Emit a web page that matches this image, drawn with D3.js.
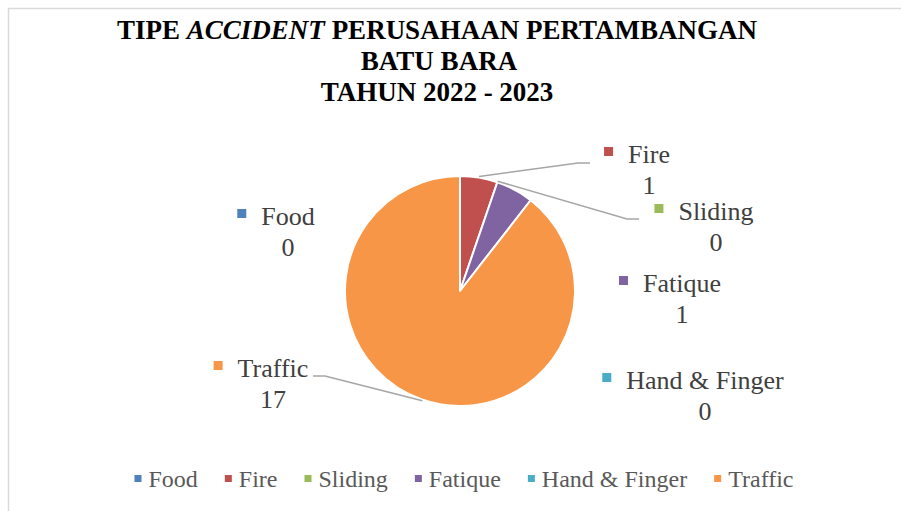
<!DOCTYPE html>
<html>
<head>
<meta charset="utf-8">
<script src="https://cdn.jsdelivr.net/npm/d3@7"></script>
<style>
  html, body { margin: 0; padding: 0; background: #fff; }
  svg { display: block; }
</style>
</head>
<body>
<svg id="chart" width="901" height="511"></svg>
<script>
// ---- data ----
const categories = ["Food", "Fire", "Sliding", "Fatique", "Hand & Finger", "Traffic"];
const values = [0, 1, 0, 1, 0, 17];
const colors = ["#4f81bd", "#c0504d", "#9bbb59", "#8064a2", "#4bacc6", "#f79646"];
const titleLines = ["TIPE ", "ACCIDENT", " PERUSAHAAN PERTAMBANGAN", "BATU BARA", "TAHUN 2022 - 2023"];

// ---- layout (not data) ----
const W = 901, H = 511;
const cx = 460, cy = 291, R = 115;
// label anchor: name centre x, name baseline y; leader: bend point & end point (null = none)
const labelLayout = {
  "Food":          { x: 288, y: 225, leader: null },
  "Fire":          { x: 649, y: 163, leader: [[578, 163], [590, 163]] },
  "Sliding":       { x: 716, y: 220, leader: [[627, 219], [639, 219]] },
  "Fatique":       { x: 682, y: 292, leader: null },
  "Hand & Finger": { x: 705, y: 389, leader: null },
  "Traffic":       { x: 273, y: 377, leader: [[325, 376], [313, 376]] }
};

const svg = d3.select("#chart");
svg.append("rect").attr("x", 0).attr("y", 0).attr("width", W).attr("height", H).attr("fill", "#fff");
// chart-area border (only top/left visible in the crop)
svg.append("rect").attr("x", 8.5).attr("y", 8.5).attr("width", 1000).attr("height", 1000)
  .attr("fill", "none").attr("stroke", "#d9d9d9").attr("stroke-width", 1.5);

// ---- title ----
const title = svg.append("g").attr("font-family", "'Liberation Serif', 'Times New Roman', serif")
  .attr("font-weight", "bold").attr("font-size", 27).attr("fill", "#000").attr("text-anchor", "middle");
const t1 = title.append("text").attr("x", 437).attr("y", 39);
t1.append("tspan").text(titleLines[0]);
t1.append("tspan").attr("font-style", "italic").text(titleLines[1]);
t1.append("tspan").text(titleLines[2]);
title.append("text").attr("x", 439).attr("y", 70).text(titleLines[3]);
title.append("text").attr("x", 437).attr("y", 101).text(titleLines[4]);

// ---- pie ----
const data = categories.map((c, i) => ({ name: c, value: values[i], color: colors[i] }));
const pie = d3.pie().value(d => d.value).sort(null).startAngle(0).endAngle(2 * Math.PI);
const arcs = pie(data);
const arc = d3.arc().innerRadius(0).outerRadius(R);
const g = svg.append("g").attr("transform", `translate(${cx},${cy})`);
g.selectAll("path").data(arcs.filter(a => a.value > 0)).join("path")
  .attr("d", arc).attr("fill", d => d.data.color)
  .attr("stroke", "#fff").attr("stroke-width", 2).attr("stroke-linejoin", "round");

// ---- leader lines ----
const lineGen = d3.line();
arcs.forEach(a => {
  const L = labelLayout[a.data.name];
  if (!L.leader) return;
  const mid = (a.startAngle + a.endAngle) / 2;
  const start = [cx + (R + 1) * Math.sin(mid), cy - (R + 1) * Math.cos(mid)];
  svg.append("path").attr("d", lineGen([start, ...L.leader]))
    .attr("fill", "none").attr("stroke", "#a6a6a6").attr("stroke-width", 1.5);
});

// ---- data labels ----
const labelFont = "'Liberation Serif', 'Times New Roman', serif";
arcs.forEach(a => {
  const L = labelLayout[a.data.name];
  const name = svg.append("text").attr("x", L.x).attr("y", L.y)
    .attr("text-anchor", "middle").attr("font-family", labelFont).attr("font-size", 26)
    .attr("fill", "#404040").text(a.data.name);
  const w = name.node().getComputedTextLength();
  svg.append("rect").attr("x", L.x - w / 2 - 24).attr("y", L.y - 16).attr("width", 9).attr("height", 9)
    .attr("fill", a.data.color);
  svg.append("text").attr("x", L.x).attr("y", L.y + 31)
    .attr("text-anchor", "middle").attr("font-family", labelFont).attr("font-size", 26)
    .attr("fill", "#404040").text(a.data.value);
});

// ---- legend ----
const legend = svg.append("g");
const legendY = 487, legendFont = 24;
let items = [];
categories.forEach((c, i) => {
  const it = legend.append("g");
  it.append("rect").attr("y", legendY - 12).attr("width", 7).attr("height", 7).attr("fill", colors[i]);
  const t = it.append("text").attr("x", 14).attr("y", legendY).attr("font-family", labelFont)
    .attr("font-size", legendFont).attr("fill", "#595959").text(c);
  items.push({ g: it, w: 14 + t.node().getComputedTextLength() });
});
const gap = 27;
const total = d3.sum(items, d => d.w) + gap * (items.length - 1);
let x0 = 464 - total / 2;
items.forEach(d => { d.g.attr("transform", `translate(${x0},0)`); x0 += d.w + gap; });
</script>
</body>
</html>
